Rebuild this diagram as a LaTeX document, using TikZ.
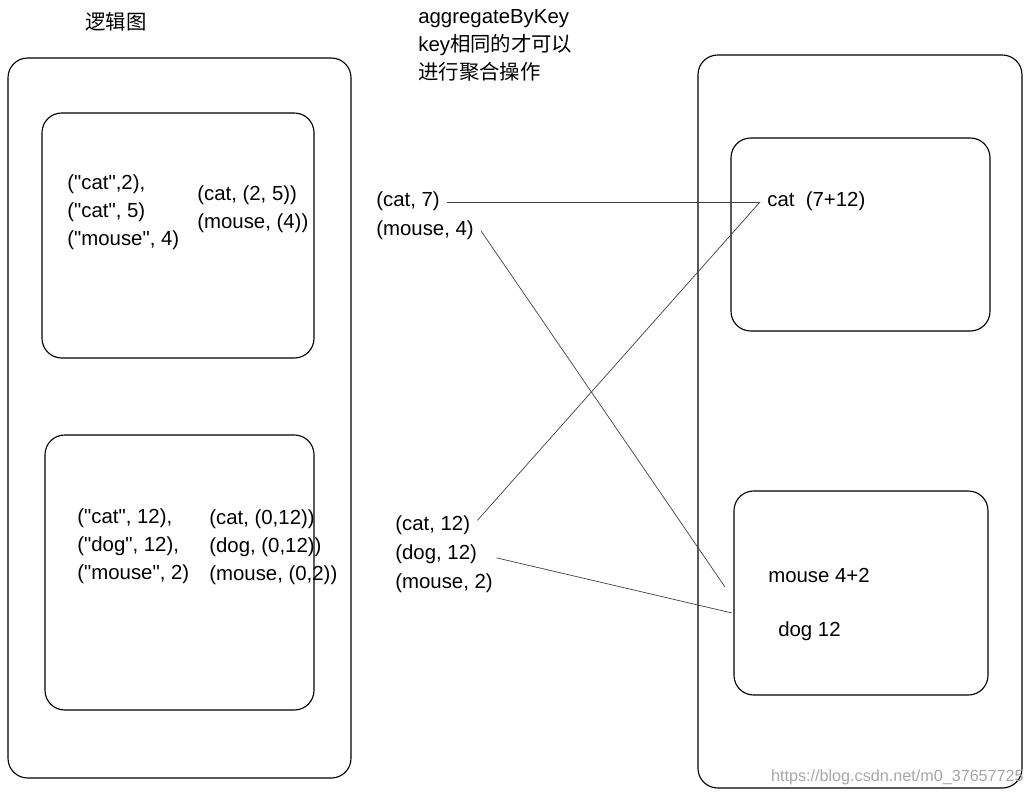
\documentclass[tikz,border=0pt]{standalone}
\usepackage{fontspec}
\setmainfont{Liberation Sans}
\newfontfamily\cjk{Noto Sans CJK SC}
\usetikzlibrary{positioning}
\newcommand\qd{\textquotedbl}
\tikzset{
    box/.style = {draw, rounded corners=14pt, line width=0.8pt},
    txt/.style = {anchor=west, inner xsep=5pt, inner ysep=3pt,
        align=left, font=\fontsize{14.5}{19.9}\selectfont},
    item/.style = {txt, text height=10pt, text depth=3pt, inner ysep=3.6pt},
    link/.style = {draw=black!75, line width=0.5pt},
    watermark/.style = {txt, font=\fontsize{11.5}{12}\selectfont, text=black!35, inner sep=0pt}
}

\begin{document}
\begin{tikzpicture}[x=0.025cm, y=-0.025cm]
  \useasboundingbox (0,0) rectangle (1031,795);

  %% titles
  \node [txt] (title) at (78,22) {\cjk 逻辑图};
  \node [txt] (op) at (411,45) {aggregateByKey\\key{\cjk 相同的才可以}\\{\cjk 进行聚合操作}};

  %% left side (partitions)
  \draw [box] (8,58) rectangle (351,778);
  \draw [box] (42,113) rectangle (314,358);
  \draw [box] (45,435) rectangle (314,710);

  \node [txt] (p1in) at (60,212) {(\qd cat\qd,2),\\(\qd cat\qd, 5)\\(\qd mouse\qd, 4)};
  \node [txt] (p1out) at (190,209) {(cat, (2, 5))\\(mouse, (4))};
  \node [txt] (p2in) at (70,546) {(\qd cat\qd, 12),\\(\qd dog\qd, 12),\\(\qd mouse\qd, 2)};
  \node [txt] (p2out) at (202,547) {(cat, (0,12))\\(dog, (0,12))\\(mouse, (0,2))};

  %% middle
  \node [item] (cat7) at (369,202) {(cat, 7)};
  \node [item, below=0pt of cat7.south west, anchor=north west] (mouse4) {(mouse, 4)};

  \node [item] (cat12) at (388,526) {(cat, 12)};
  \node [item, below=0pt of cat12.south west, anchor=north west] (dog12) {(dog, 12)};
  \node [item, below=0pt of dog12.south west, anchor=north west] (mouse2) {(mouse, 2)};

  %% right side (result)
  \draw [box] (698,55) rectangle (1022,788);
  \draw [box] (731,138) rectangle (990,331);
  \draw [box] (734,491) rectangle (988,695);

  \node [item] (catsum) at (760,202) {cat~~(7+12)};
  \node [item] (mousesum) at (761,578) {mouse 4+2};
  \node [item] (dogsum) at (771,632) {dog 12};

  \coordinate (mouseend) at (725,587);
  \coordinate (dogend) at (732,613);

  %% shuffle
  \draw [link] (cat7) -- (catsum);
  \draw [link] (mouse4.east) -- (mouseend);
  \draw [link] ([yshift=4pt]cat12.east) -- (catsum.west);
  \draw [link, shorten <=9pt] (dog12.east) -- (dogend);

  \node [watermark, anchor=east] (wm) at (1024,777) {https://blog.csdn.net/m0\_37657725};

\end{tikzpicture}
\end{document}
